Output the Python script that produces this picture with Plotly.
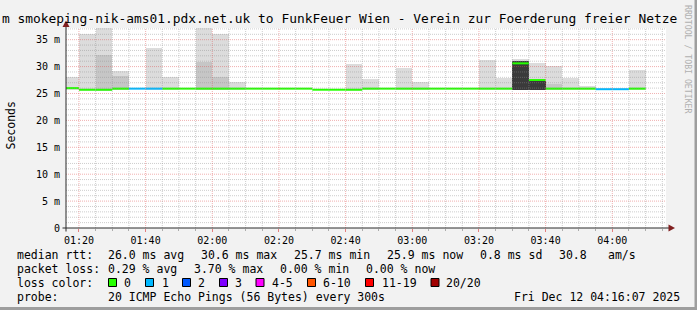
import plotly.graph_objects as go
import pandas as pd

# ---------------- data ----------------
day = "2025-12-12 "
interval_end = ["01:20", "01:25", "01:30", "01:35", "01:40", "01:45", "01:50",
                "01:55", "02:00", "02:05", "02:10", "02:15", "02:20", "02:25",
                "02:30", "02:35", "02:40", "02:45", "02:50", "02:55", "03:00",
                "03:05", "03:10", "03:15", "03:20", "03:25", "03:30", "03:35",
                "03:40", "03:45", "03:50", "03:55", "04:00", "04:05", "04:10"]
median_ms = [26.0, 25.7, 25.7, 25.9, 25.9, 25.9, 25.9,
             25.9, 25.9, 25.9, 25.9, 25.9, 25.9, 25.9,
             25.9, 25.7, 25.7, 25.7, 25.9, 25.9, 25.9,
             25.9, 25.9, 25.9, 25.9, 25.9, 25.9, 30.6,
             27.5, 25.9, 25.9, 25.9, 25.8, 25.8, 25.9]
loss_pings = [0, 0, 0, 0, 1, 1, 0,
              0, 0, 0, 0, 0, 0, 0,
              0, 0, 0, 0, 0, 0, 0,
              0, 0, 0, 0, 0, 0, 0,
              0, 0, 0, 0, 1, 1, 0]
smoke_min = [25.6, 25.5, 25.5, 25.7, 25.7, 25.7, 25.7,
             25.7, 25.7, 25.7, 25.7, 25.7, 25.7, 25.7,
             25.7, 25.5, 25.5, 25.5, 25.7, 25.7, 25.7,
             25.7, 25.7, 25.7, 25.7, 25.7, 25.7, 25.7,
             25.7, 25.7, 25.7, 25.7, 25.6, 25.6, 25.7]
# outermost smoke (max rtt)
smoke_max = [28.0, 36.1, 38.5, 29.1, None, 33.5, 28.1,
             None, 38.0, 36.1, 27.2, None, None, None,
             None, None, None, 30.4, 27.7, None, 29.7,
             27.2, None, None, None, 31.2, 27.9, 31.4,
             30.6, 30.2, 27.9, 26.3, None, None, 29.3]
# second smoke layer (2nd highest rtt)
smoke_mid = [None, None, 32.2, 28.3, None, None, None,
             None, 30.8, 28.1, None, None, None, None,
             None, None, None, None, None, None, None,
             None, None, None, None, None, None, None,
             None, 26.8, None, None, None, None, None]
# dense smoke core
smoke_core = [None, None, None, None, None, None, None,
              None, None, None, None, None, None, None,
              None, None, None, None, None, None, None,
              None, None, None, None, None, None, 31.0,
              27.3, None, None, None, None, None, None]

y_tick_vals = [0, 5, 10, 15, 20, 25, 30, 35]
y_tick_text = ["0", "5 m", "10 m", "15 m", "20 m", "25 m", "30 m", "35 m"]

loss_labels = ["0", "1", "2", "3", "4-5", "6-10", "11-19", "20/20"]
loss_colors = ["#26ff00", "#00b8ff", "#0059ff", "#7e00ff", "#ff00ff", "#ff5500", "#ff0000", "#a10000"]
loss_lower = [0, 1, 2, 3, 4, 6, 11, 20]

row_rtt = ["median rtt:", "26.0 ms avg", "30.6 ms max", "25.7 ms min", "25.9 ms now", "0.8 ms sd", "30.8", "am/s"]
row_loss = ["packet loss:", "0.29 % avg", "3.70 % max", "0.00 % min", "0.00 % now"]
row_probe = ["probe:", "20 ICMP Echo Pings (56 Bytes) every 300s", "Fri Dec 12 04:16:07 2025"]
title_text = "m smokeping-nik-ams01.pdx.net.uk to FunkFeuer Wien - Verein zur Foerderung freier Netze"

# ---------------- layout helpers ----------------
W, H = 697, 310
L, R, T, B = 66, 31, 28, 82
PW = W - L - R
PH = H - T - B
FONT = "DejaVu Sans Mono"


def px(x):
    return (x - L) / PW


def py(y):
    return (H - B - y) / PH


x0 = pd.Timestamp(day + "01:16:07")
x1 = pd.Timestamp(day + "04:16:07")
Y_TOP = 37.17

ends = pd.to_datetime([day + t for t in interval_end])
starts = ends - pd.Timedelta(seconds=300)
centers = ends - pd.Timedelta(seconds=150)

fig = go.Figure()


def smoke_layer(top, color):
    xs, ys, bs = [], [], []
    for c, lo, hi in zip(centers, smoke_min, top):
        if hi is None:
            continue
        xs.append(c)
        ys.append(hi - lo)
        bs.append(lo)
    fig.add_trace(go.Bar(x=xs, y=ys, base=bs, width=300000, marker=dict(color=color, line=dict(width=0)),
                         showlegend=False, hoverinfo="skip"))


smoke_layer(smoke_max, "#dcdcdc")
smoke_layer(smoke_mid, "#c6c6c6")
smoke_layer(smoke_core, "#3a3a3a")


def loss_index(n):
    idx = 0
    for i, lo in enumerate(loss_lower):
        if n >= lo:
            idx = i
    return idx


for ci, col in enumerate(loss_colors):
    xs, ys = [], []
    for s, e, m, lp in zip(starts, ends, median_ms, loss_pings):
        if loss_index(lp) != ci:
            continue
        xs += [s, e, None]
        ys += [m, m, None]
    if xs:
        fig.add_trace(go.Scatter(x=xs, y=ys, mode="lines", line=dict(color=col, width=2),
                                 showlegend=False, hoverinfo="skip"))

shapes = []
MINOR = "rgba(143,143,143,0.45)"
MAJOR = "rgba(222,79,79,0.45)"
# horizontal grid (above traces)
for v in range(1, 38):
    if v > Y_TOP:
        break
    shapes.append(dict(type="line", xref="x", yref="y", x0=x0, x1=x1, y0=v, y1=v, layer="above",
                       line=dict(color=MAJOR if v % 5 == 0 else MINOR, width=1, dash="1px,1px")))
# vertical grid
for t in pd.date_range(day + "01:20", day + "04:15", freq="5min"):
    major = (t.minute % 20 == 0)
    shapes.append(dict(type="line", xref="x", yref="y", x0=t, x1=t, y0=0, y1=Y_TOP, layer="above",
                       line=dict(color=MAJOR if major else MINOR, width=1, dash="1px,1px")))
# axes
AX = "#2a2a2a"
shapes.append(dict(type="line", xref="paper", yref="paper", x0=px(62.5), x1=px(670), y0=py(228), y1=py(228),
                   line=dict(color=AX, width=1), layer="above"))
shapes.append(dict(type="line", xref="paper", yref="paper", x0=px(66), x1=px(66), y0=py(231.5), y1=py(26),
                   line=dict(color=AX, width=1), layer="above"))
ARW = "#801f1f"
shapes.append(dict(type="path", xref="paper", yref="paper", layer="above",
                   path="M {} {} L {} {} L {} {} Z".format(px(62.5), py(27), px(69.5), py(27), px(66), py(20.5)),
                   fillcolor=ARW, line=dict(width=0)))
shapes.append(dict(type="path", xref="paper", yref="paper", layer="above",
                   path="M {} {} L {} {} L {} {} Z".format(px(668.5), py(224.5), px(668.5), py(231.5), px(675), py(228)),
                   fillcolor=ARW, line=dict(width=0)))
# frame shading
shapes.append(dict(type="rect", xref="paper", yref="paper", x0=px(694.5), x1=px(698), y0=py(-1), y1=py(311),
                   fillcolor="#9e9e9e", line=dict(width=0)))
shapes.append(dict(type="rect", xref="paper", yref="paper", x0=px(-1), x1=px(698), y0=py(307), y1=py(311),
                   fillcolor="#9e9e9e", line=dict(width=0)))

annotations = []


def text(x, y, s, size=11.5, anchor="left", color="black", angle=0, yanchor="middle"):
    annotations.append(dict(x=px(x), y=py(y), xref="paper", yref="paper", text=s, showarrow=False,
                            xanchor=anchor, yanchor=yanchor, textangle=angle, borderpad=0,
                            font=dict(family=FONT, size=size, color=color)))


text(0.5, 18.5, title_text, size=12.9)
text(10.5, 126, "Seconds", size=11.5, anchor="center", angle=-90)
text(688, 59, "RRDTOOL / TOBI OETIKER", size=8.2, anchor="center", color="#b0b0b0", angle=90)

r1, r2, r3, r4 = 254.5, 268.5, 282.5, 296.5
for s, x in zip(row_rtt, [16, 107, 199.5, 293, 385.5, 479, 558, 607]):
    text(x, r1, s)
for s, x in zip(row_loss, [16, 107, 193, 278.5, 364.5]):
    text(x, r2, s)
text(16, r3, "loss color:")
box_x = [108.5, 145.5, 182.5, 219.5, 256, 307.5, 365.5, 431]
lab_x = [123, 160.5, 197, 234, 270.5, 322, 380.5, 445]
for lab, col, bx, lx in zip(loss_labels, loss_colors, box_x, lab_x):
    shapes.append(dict(type="rect", xref="paper", yref="paper", x0=px(bx), x1=px(bx + 8), y0=py(278.5), y1=py(286.5),
                       fillcolor=col, line=dict(color="black", width=1)))
    text(lx, r3, lab)
for s, x in zip(row_probe, [16, 107, 513]):
    text(x, r4, s)

fig.update_layout(
    width=W, height=H, margin=dict(l=L, r=R, t=T, b=B, pad=0),
    paper_bgcolor="#f2f2f2", plot_bgcolor="#ffffff",
    barmode="overlay", bargap=0, showlegend=False,
    shapes=shapes, annotations=annotations,
    font=dict(family=FONT, size=10, color="black"),
)
fig.update_xaxes(type="date", range=[x0, x1], showgrid=False, zeroline=False, showline=False,
                 tick0=day + "01:20", dtick=1200000, tickformat="%H:%M",
                 ticks="outside", ticklen=3, tickcolor="rgba(222,79,79,0.7)", tickwidth=1,
                 tickfont=dict(family=FONT, size=10, color="black"),
                 minor=dict(tick0=day + "01:20", dtick=300000, ticks="outside", ticklen=2,
                            tickcolor="rgba(143,143,143,0.7)", showgrid=False))
fig.update_yaxes(range=[0, Y_TOP], showgrid=False, zeroline=False, showline=False,
                 tickvals=y_tick_vals, ticktext=y_tick_text, ticks="",
                 ticklabelstandoff=5,
                 tickfont=dict(family=FONT, size=10, color="black"))

fig.write_html("out.html")
